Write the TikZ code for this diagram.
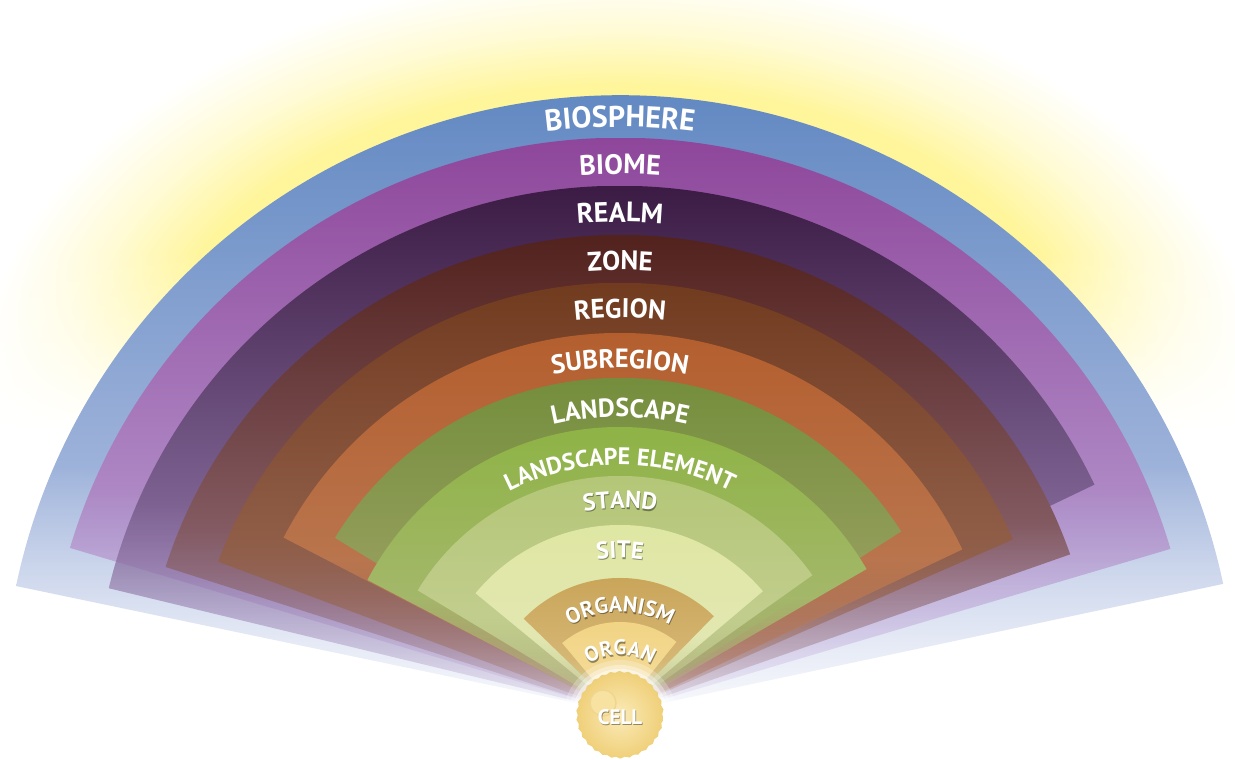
\documentclass[tikz,border=0pt]{standalone}
\usepackage{fontspec}
\newfontfamily\lblfont{PT Sans}
\usetikzlibrary{fadings,decorations.text,decorations.pathmorphing}

\definecolor{glowY}{HTML}{FFF59A}
\definecolor{glowY2}{HTML}{FFFBD6}
\pgfdeclareradialshading{glowshade}{\pgfpoint{0bp}{0bp}}{color(0bp)=(glowY); color(18bp)=(glowY); color(21.5bp)=(glowY2); color(25bp)=(white); color(50bp)=(white)}

\definecolor{bioA}{HTML}{5A83BF}\definecolor{bioB}{HTML}{C4CDE9}
\definecolor{bmeA}{HTML}{883A93}\definecolor{bmeB}{HTML}{C2B0DE}
\definecolor{rlmA}{HTML}{2C0B32}\definecolor{rlmB}{HTML}{A890C4}
\definecolor{zonA}{HTML}{48160F}\definecolor{zonB}{HTML}{A27E8C}
\definecolor{regA}{HTML}{6A3316}\definecolor{regB}{HTML}{A47462}
\definecolor{subA}{HTML}{B35927}\definecolor{subB}{HTML}{BC8462}
\definecolor{lndA}{HTML}{6C8A35}\definecolor{lndB}{HTML}{ACAA72}
\definecolor{lelA}{HTML}{89B23D}\definecolor{lelB}{HTML}{B2BA82}
\definecolor{stdA}{HTML}{B3C676}\definecolor{stdB}{HTML}{CAD29C}
\definecolor{sitA}{HTML}{DFE7A2}\definecolor{sitB}{HTML}{E4E7BA}
\definecolor{orgsA}{HTML}{C9A458}\definecolor{orgsB}{HTML}{DCC184}
\definecolor{orgA}{HTML}{F1D382}\definecolor{orgB}{HTML}{F4DEA0}
\definecolor{cellIn}{HTML}{FBEBB8}\definecolor{cellOut}{HTML}{EFCF78}
\definecolor{cellNuc}{HTML}{F7E2A2}\definecolor{cellEdge}{HTML}{F0D58E}

\begin{tikzfadingfrompicture}[name=wedgefade, x=1pt, y=1pt]
  \fill[transparent!88] (-100,-100) rectangle (100,0.5);
  \shade[bottom color=transparent!88, top color=transparent!0] (-100,0) rectangle (100,40);
  \fill[transparent!0] (-100,39.5) rectangle (100,100);
\end{tikzfadingfrompicture}

\begin{tikzfadingfrompicture}[name=glowfade, x=1pt, y=1pt]
  \fill[transparent!100] (-800,-800) rectangle (800,281);
  \shade[bottom color=transparent!100, top color=transparent!0] (-800,280) rectangle (800,460);
  \fill[transparent!0] (-800,459) rectangle (800,800);
\end{tikzfadingfrompicture}

\newcommand{\fanwedge}[5]{%
  \path[shade, top color=#4, bottom color=#5, path fading=wedgefade, fit fading=false,
        fading transform={scale=#1/100}]
    (0,0) -- (#2:#1) arc[start angle=#2, end angle=#3, radius=#1] -- cycle;}

\newcommand{\arctext}[4]{%
  \path[decorate, decoration={text along path, text align=center, text color=#1,
        text={|\lblfont\bfseries\fontsize{#3}{#3}\selectfont|#4}}]
    (175:#2) arc[start angle=175, end angle=5, radius=#2];}

% label with a soft dark shadow (used on the light bands)
\newcommand{\fanlabelshadow}[3]{%
  \begin{scope}[opacity=0.4, shift={(0.7,-1.3)}]\arctext{black}{#1}{#2}{#3}\end{scope}%
  \arctext{white}{#1}{#2}{#3}}
% label on a dark band
\newcommand{\fanlabel}[3]{\arctext{white}{#1}{#2}{#3}}

\tikzset{
  celltext/.style={font=\lblfont\bfseries\fontsize{21}{21}\selectfont, text=white, inner sep=0pt},
}

\begin{document}
\begin{tikzpicture}[x=1pt, y=1pt]
\useasboundingbox (-620,-48) rectangle (615,712);

% yellow glow behind the fan (upper part only)
\path[shading=glowshade, path fading=glowfade, fit fading=false]
  (0,330) ellipse [x radius=640, y radius=410];

% nested wedges, outermost first
\fanwedge{617}{12.0}{168.2}{bioA}{bioB}
\fanwedge{574}{16.5}{163.4}{bmeA}{bmeB}
\fanwedge{526}{25.6}{166.4}{rlmA}{rlmB}
\fanwedge{477}{19.3}{162.3}{zonA}{zonB}
\fanwedge{429}{23.7}{159.5}{regA}{regB}
\fanwedge{379}{25.4}{152.6}{subA}{subB}
\fanwedge{334}{32.7}{148.6}{lndA}{lndB}
\fanwedge{285}{30.1}{152.4}{lelA}{lelB}
\fanwedge{236}{35.4}{149.0}{stdA}{stdB}
\fanwedge{187}{40.2}{140.6}{sitA}{sitB}
\fanwedge{134}{45.6}{135.9}{orgsA}{orgsB}
\fanwedge{90}{51.2}{130.0}{orgA}{orgB}

% labels
\fanlabel{585}{30}{BIOSPHERE}
\fanlabel{538}{28}{BIOME}
\fanlabel{490}{28}{REALM}
\fanlabel{442}{27}{ZONE}
\fanlabel{394}{27}{REGION}
\fanlabel{344}{26.5}{SUBREGION}
\fanlabel{295}{26}{LANDSCAPE}
\fanlabel{247}{24}{LANDSCAPE ELEMENT}
\fanlabelshadow{204}{24}{STAND}
\fanlabelshadow{154}{24}{SITE}
\fanlabelshadow{100}{22}{ORGANISM}
\fanlabelshadow{57}{21}{ORGAN}

% cell
\fill[white, opacity=0.25] (0,-5) circle (57);
\fill[white, opacity=0.35] (0,-5) circle (52);
\fill[white, opacity=0.5] (0,-5) circle (48);
\shade[inner color=cellIn, outer color=cellOut, decorate,
       decoration={snake, amplitude=0.8, segment length=9}] (0,-5) circle (43);
\draw[cellEdge, line width=1.5, fill=cellNuc] (-17,9) circle (13);
\node[celltext, text=black, opacity=0.4] (cellshadow) at (0.7,-6.3) {CELL};
\node[celltext] (cell) at (0,-5) {CELL};
\end{tikzpicture}
\end{document}
